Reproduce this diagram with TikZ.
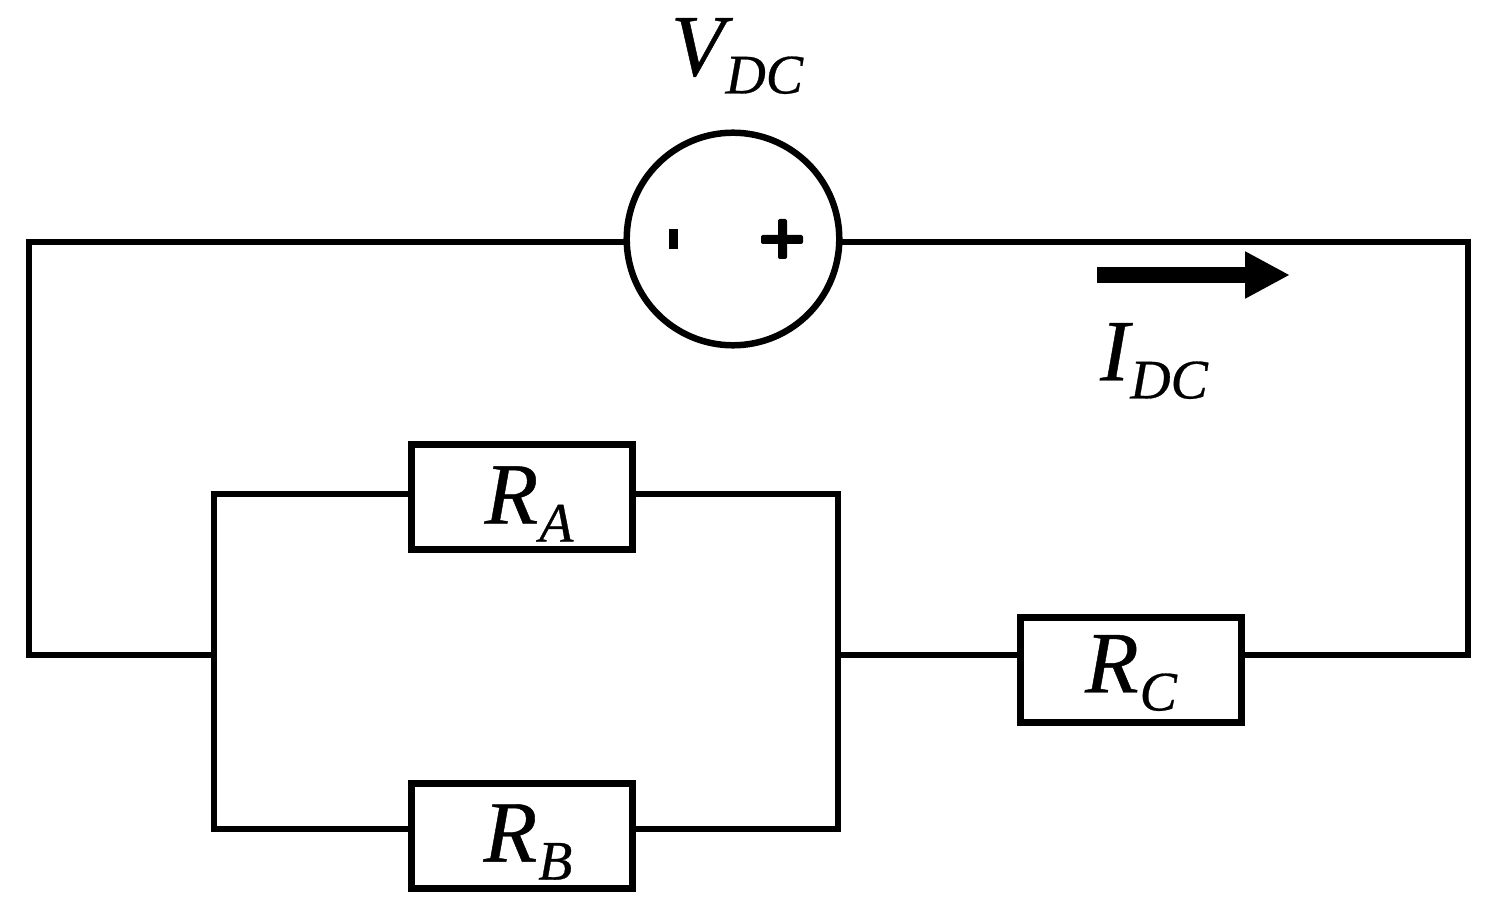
\documentclass[tikz,border=0pt]{standalone}
\usepackage{fontspec}
\setmainfont{Liberation Serif}[ItalicFeatures={FakeBold=0.5}]
\usetikzlibrary{positioning}
\usetikzlibrary{arrows.meta}
\newcommand{\sublabel}[2]{\itshape\fontsize{88}{88}\selectfont #1\kern1pt\raisebox{-18pt}{\fontsize{56}{56}\selectfont #2}}
\tikzset{
  wire/.style={line width=6pt, line cap=rect},
  resbox/.style={draw, line width=6.5pt, fill=white, minimum width=7.8cm, minimum height=3.7cm, inner sep=0},
  biglabel/.style={inner sep=0},
}
\begin{document}
\begin{tikzpicture}[x=0.03528cm,y=-0.03528cm]
  \useasboundingbox (0,0) rectangle (1489,911);

  \node[draw, circle, line width=6.5pt, minimum size=7.5cm, inner sep=0] (vdc) at (733,239) {};
  \node[biglabel] (vdclabel) at (737,56) {\sublabel{V}{DC}};
  \coordinate (minus) at (673,239);
  \coordinate (plus) at (782,239);
  \fill (minus) ++(-4,-10) rectangle ++(9,20);
  \fill[rounded corners=2pt] (plus) ++(-21,-4) rectangle ++(42,9);
  \fill[rounded corners=2pt] (plus) ++(-4,-20) rectangle ++(9,40);

  \node[biglabel] (idclabel) at (1154,361) {\sublabel{I}{DC}};

  \node[resbox] (ra) at (522,497) {};
  \node[biglabel] (ralabel) at (529,504) {\sublabel{R}{A}};
  \node[resbox] (rb) at (522,836) {};
  \node[biglabel] (rblabel) at (528,842) {\sublabel{R}{B}};
  \node[resbox] (rc) at (1131,670) {};
  \node[biglabel] (rclabel) at (1131,673) {\sublabel{R}{C}};

  \coordinate (tl) at (29,242);
  \coordinate (tr) at (1468,242);
  \coordinate (bl) at (29,655);
  \coordinate (br) at (1468,655);
  \coordinate (jl) at (214,655);
  \coordinate (jr) at (838,655);
  \coordinate (jlt) at (214,494);
  \coordinate (jlb) at (214,829);
  \coordinate (jrt) at (838,494);
  \coordinate (jrb) at (838,829);

  \draw[wire] (vdc.west |- tl) -- (tl) -- (bl) -- (jl);
  \draw[wire] (vdc.east |- tr) -- (tr) -- (br) -- (rc.east |- br);
  \draw[wire] (rc.west |- jr) -- (jr);
  \draw[wire] (jlt) -- (jlb);
  \draw[wire] (jrt) -- (jrb);
  \draw[wire] (jlt) -- (jlt -| ra.west);
  \draw[wire] (ra.east |- jrt) -- (jrt);
  \draw[wire] (jlb) -- (jlb -| rb.west);
  \draw[wire] (rb.east |- jrb) -- (jrb);

  \coordinate (arrowstart) at (1097,275);
  \coordinate (arrowend) at (1290,275);
  \draw[line width=16pt, -{Triangle[length=45pt,width=44pt]}] (arrowstart) -- (arrowend);
\end{tikzpicture}
\end{document}
